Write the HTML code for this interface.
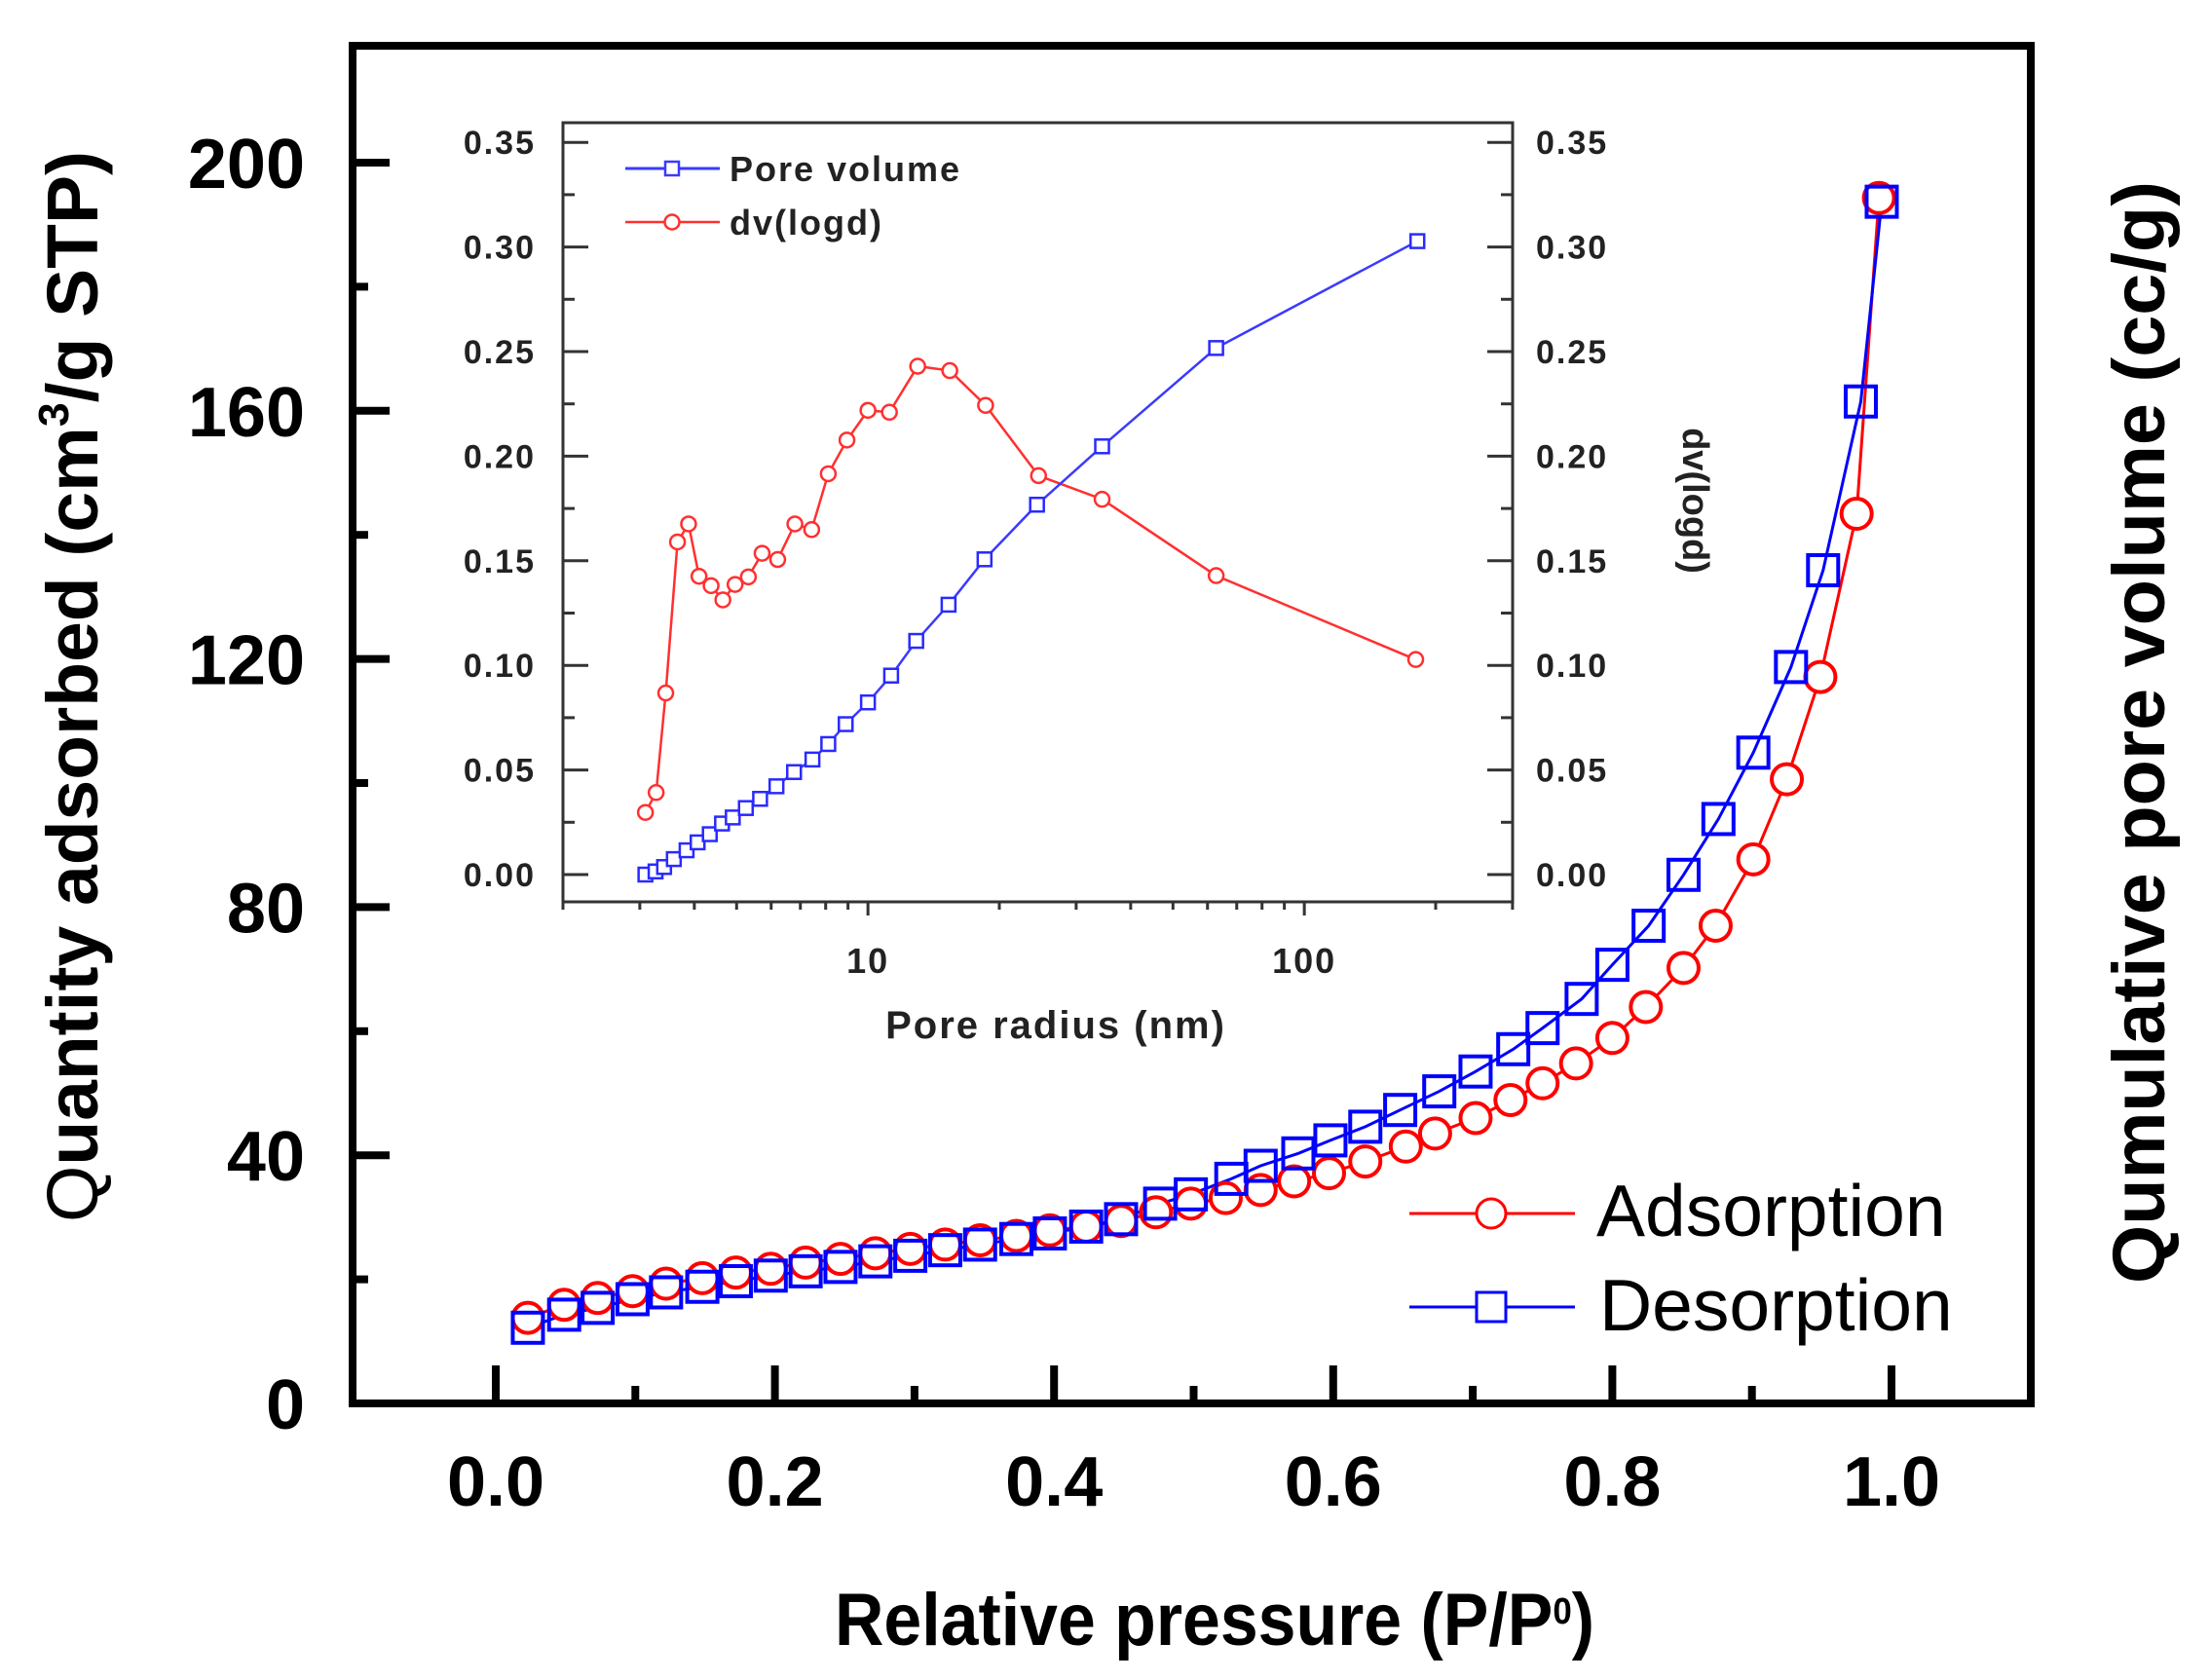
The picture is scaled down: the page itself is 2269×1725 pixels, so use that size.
<!DOCTYPE html>
<html><head><meta charset="utf-8"><style>
html,body{margin:0;padding:0;background:#fff;}
svg{display:block;}
text{font-family:"Liberation Sans",Arial,sans-serif;}
</style></head><body>
<svg id="chart" width="2269" height="1725" viewBox="0 0 2269 1725" xmlns="http://www.w3.org/2000/svg">
<rect x="0" y="0" width="2269" height="1725" fill="#fff"/>
<g id="main"></g>
<g id="inset"></g>
</svg>
<script>
// ---- Main chart data ----
const adsP = [0.023,0.049,0.073,0.098,0.122,0.148,0.172,0.197,0.222,0.247,0.272,0.297,0.322,0.347,0.373,0.397,0.423,0.448,0.473,0.498,0.523,0.548,0.572,0.597,0.623,0.652,0.673,0.702,0.727,0.750,0.774,0.800,0.824,0.851,0.874,0.901,0.925,0.949,0.975,0.991];
const adsQ = [13.8,15.9,17.0,18.1,19.3,20.2,21.1,21.7,22.7,23.3,24.2,24.9,25.6,26.3,27.0,27.9,28.5,29.4,30.8,32.2,33.1,34.4,35.8,37.1,39.0,41.4,43.5,46.0,48.9,51.6,54.8,58.9,63.9,70.2,77.0,87.7,100.6,117.1,143.4,194.3];
const desP = [0.023,0.049,0.073,0.098,0.122,0.148,0.172,0.197,0.222,0.247,0.272,0.297,0.322,0.347,0.373,0.397,0.423,0.448,0.476,0.498,0.527,0.548,0.575,0.598,0.623,0.648,0.676,0.702,0.729,0.750,0.778,0.800,0.826,0.851,0.876,0.901,0.928,0.951,0.978,0.993];
const desQ = [12.2,14.3,15.4,16.8,17.9,18.8,19.7,20.6,21.3,22.0,22.9,23.8,24.7,25.6,26.5,27.4,28.5,29.7,32.2,33.7,36.2,38.3,40.3,42.4,44.6,47.3,50.3,53.5,57.1,60.5,65.2,70.7,77.0,85.2,94.2,104.9,118.7,134.3,161.5,193.7];
const xTickLabels = ["0.0","0.2","0.4","0.6","0.8","1.0"];
const yTickLabels = ["0","40","80","120","160","200"];
// ---- Inset data ----
const pvR = [3.09,3.26,3.41,3.59,3.84,4.07,4.34,4.63,4.90,5.25,5.66,6.17,6.77,7.46,8.11,8.89,10.0,11.3,12.9,15.3,18.5,24.4,34.4,62.8,181.6];
const pvV = [0,0.0015,0.0036,0.0074,0.0116,0.0154,0.0193,0.0244,0.0273,0.0318,0.0362,0.0422,0.0490,0.0550,0.0624,0.0719,0.0823,0.0951,0.1117,0.1290,0.1507,0.1768,0.2047,0.2517,0.3028];
const dvR = [3.09,3.27,3.44,3.66,3.88,4.10,4.37,4.65,4.96,5.32,5.72,6.21,6.80,7.43,8.11,8.95,10.0,11.2,13.0,15.4,18.6,24.6,34.4,62.8,180];
const dvV = [0.0297,0.0392,0.0868,0.1590,0.1676,0.1426,0.1381,0.1313,0.1387,0.1423,0.1536,0.1506,0.1676,0.1649,0.1916,0.2077,0.2219,0.2210,0.2430,0.2409,0.2243,0.1907,0.1794,0.1429,0.1028];
const insetYTicks = ["0.00","0.05","0.10","0.15","0.20","0.25","0.30","0.35"];
const insetXTickLabels = ["10","100"];

const NS="http://www.w3.org/2000/svg";
function mk(parent,tag,attrs,txt){const e=document.createElementNS(NS,tag);for(const k in attrs)e.setAttribute(k,attrs[k]);if(txt!==undefined)e.textContent=txt;parent.appendChild(e);return e;}

const X=p=>509+p*1433;
const Y=q=>1441-q*(1274/200);
const M=document.getElementById('main');

function line(P,Q,col,name){
  let d=P.map((p,i)=>(i?'L':'M')+X(p).toFixed(1)+','+Y(Q[i]).toFixed(1)).join(' ');
  const e=mk(M,'path',{d:d,fill:'none',stroke:col,'stroke-width':3});
  
  
}
line(adsP,adsQ,'#ff0000','adsorption-line');
line(desP,desQ,'#0000ff','desorption-line');
adsP.forEach((p,i)=>{
  const c=mk(M,'circle',{cx:X(p),cy:Y(adsQ[i]),r:15.5,fill:'#fff',stroke:'#ff0000','stroke-width':4});
  
  
});
desP.forEach((p,i)=>{
  const r=mk(M,'rect',{x:X(p)-15.5,y:Y(desQ[i])-15.5,width:31,height:31,fill:'none',stroke:'#0000ff','stroke-width':4});
  
  
});

const fr=mk(M,'rect',{x:362,y:47,width:1723,height:1394,fill:'none',stroke:'#000','stroke-width':8});


for(let k=0;k<=10;k++){
  const x=X(k/10),len=k%2===0?39:18;
  const t=mk(M,'line',{x1:x,x2:x,y1:1441,y2:1441-len,stroke:'#000','stroke-width':8});
  
  
}
xTickLabels.forEach((s,i)=>{
  const t=mk(M,'text',{x:X(i*0.2),y:1546,'text-anchor':'middle','font-size':72,'font-weight':'bold'},s);
  
  
});
for(let k=0;k<=10;k++){
  const y=Y(k*20),len=k%2===0?38:16;
  const t=mk(M,'line',{x1:362,x2:362+len,y1:y,y2:y,stroke:'#000','stroke-width':8});
  
  
}
yTickLabels.forEach((s,i)=>{
  const t=mk(M,'text',{x:313,y:Y(i*40)+26,'text-anchor':'end','font-size':72,'font-weight':'bold'},s);
  
  
});
let tt=mk(M,'text',{x:857,y:1689,'font-size':76,'font-weight':'bold',textLength:780,lengthAdjust:'spacingAndGlyphs'});
tt.innerHTML='Relative pressure (P/P<tspan font-size="38" dy="-22">0</tspan><tspan dy="22">)</tspan>';


tt=mk(M,'text',{transform:'translate(100,1255) rotate(-90)','font-size':74,'font-weight':'bold',textLength:1100,lengthAdjust:'spacingAndGlyphs'});
tt.innerHTML='<tspan font-weight="normal">Q</tspan>uantity adsorbed (cm<tspan font-size="44" dy="-30">3</tspan><tspan dy="30">/g STP)</tspan>';


tt=mk(M,'text',{transform:'translate(2222,1318) rotate(-90)','font-size':76,'font-weight':'bold',textLength:1132,lengthAdjust:'spacingAndGlyphs'},'Qumulative pore volume (cc/g)');


const lg=mk(M,'g',{});


mk(lg,'line',{x1:1447,x2:1617,y1:1246,y2:1246,stroke:'#ff0000','stroke-width':3});
mk(lg,'circle',{cx:1531,cy:1246,r:15,fill:'#fff',stroke:'#ff0000','stroke-width':3});
let lt=mk(lg,'text',{x:1639,y:1269,'font-size':75},'Adsorption');


mk(lg,'line',{x1:1447,x2:1617,y1:1342,y2:1342,stroke:'#0000ff','stroke-width':3});
mk(lg,'rect',{x:1516,y:1327,width:30,height:30,fill:'#fff',stroke:'#0000ff','stroke-width':3});
lt=mk(lg,'text',{x:1642,y:1366,'font-size':75},'Desorption');



// ---- inset ----
const I=document.getElementById('inset');
const IX=r=>578+(Math.log10(r)-Math.log10(2))*448;
const IY=v=>898-v*(107.4/0.05);
const ifr=mk(I,'rect',{x:578,y:126,width:975,height:800,fill:'none',stroke:'#333','stroke-width':3});


for(let k=0;k<=14;k++){
  const y=IY(k*0.025),len=k%2===0?26:12;
  mk(I,'line',{x1:578,x2:578+len,y1:y,y2:y,stroke:'#333','stroke-width':3});
  mk(I,'line',{x1:1553,x2:1553-len,y1:y,y2:y,stroke:'#333','stroke-width':3});
}
[2,3,4,5,6,7,8,9,10,20,30,40,50,60,70,80,90,100,200,300].forEach(r=>{
  const major=(r===10||r===100);
  mk(I,'line',{x1:IX(r),x2:IX(r),y1:926,y2:926+(major?14:8),stroke:'#333','stroke-width':3});
});
insetYTicks.forEach((s,i)=>{
  let t=mk(I,'text',{x:550,y:IY(i*0.05)+12,'text-anchor':'end','font-size':34,'font-weight':'bold',fill:'#222','letter-spacing':2},s);
  
  
  t=mk(I,'text',{x:1577,y:IY(i*0.05)+12,'font-size':34,'font-weight':'bold',fill:'#222','letter-spacing':2},s);
  
  
});
insetXTickLabels.forEach(s=>{
  const t=mk(I,'text',{x:IX(+s),y:999,'text-anchor':'middle','font-size':36,'font-weight':'bold',fill:'#222','letter-spacing':2},s);
  
  
});
let it=mk(I,'text',{x:1084,y:1066,'text-anchor':'middle','font-size':40,'font-weight':'bold',fill:'#222','letter-spacing':2},'Pore radius (nm)');


it=mk(I,'text',{transform:'translate(1728,514) rotate(90)','text-anchor':'middle','font-size':38,'font-weight':'bold',fill:'#222'},'dv(logd)');


function iline(R,V,col,name){
  const d=R.map((r,i)=>(i?'L':'M')+IX(r).toFixed(1)+','+IY(V[i]).toFixed(1)).join(' ');
  const e=mk(I,'path',{d:d,fill:'none',stroke:col,'stroke-width':2.5});
  
  
}
iline(dvR,dvV,'#ff3030','dv-logd-line');
iline(pvR,pvV,'#3a3aff','pore-volume-line');
dvR.forEach((r,i)=>{
  const c=mk(I,'circle',{cx:IX(r),cy:IY(dvV[i]),r:7.5,fill:'#fff',stroke:'#ff3030','stroke-width':2.5});
  
  
});
pvR.forEach((r,i)=>{
  const s=mk(I,'rect',{x:IX(r)-7,y:IY(pvV[i])-7,width:14,height:14,fill:'#fff',stroke:'#2a2aff','stroke-width':2.5});
  
  
});
const il=mk(I,'g',{});


mk(il,'line',{x1:642,x2:739,y1:173,y2:173,stroke:'#3a3aff','stroke-width':3});
mk(il,'rect',{x:683,y:166,width:14,height:14,fill:'#fff',stroke:'#3a3aff','stroke-width':2.5});
let ilt=mk(il,'text',{x:749,y:186,'font-size':36,'font-weight':'bold',fill:'#222','letter-spacing':2},'Pore volume');


mk(il,'line',{x1:642,x2:739,y1:228,y2:228,stroke:'#ff3030','stroke-width':2.5});
mk(il,'circle',{cx:690,cy:228,r:7.5,fill:'#fff',stroke:'#ff3030','stroke-width':2.5});
ilt=mk(il,'text',{x:749,y:241,'font-size':36,'font-weight':'bold',fill:'#222','letter-spacing':2},'dv(logd)');


</script>
</body></html>
